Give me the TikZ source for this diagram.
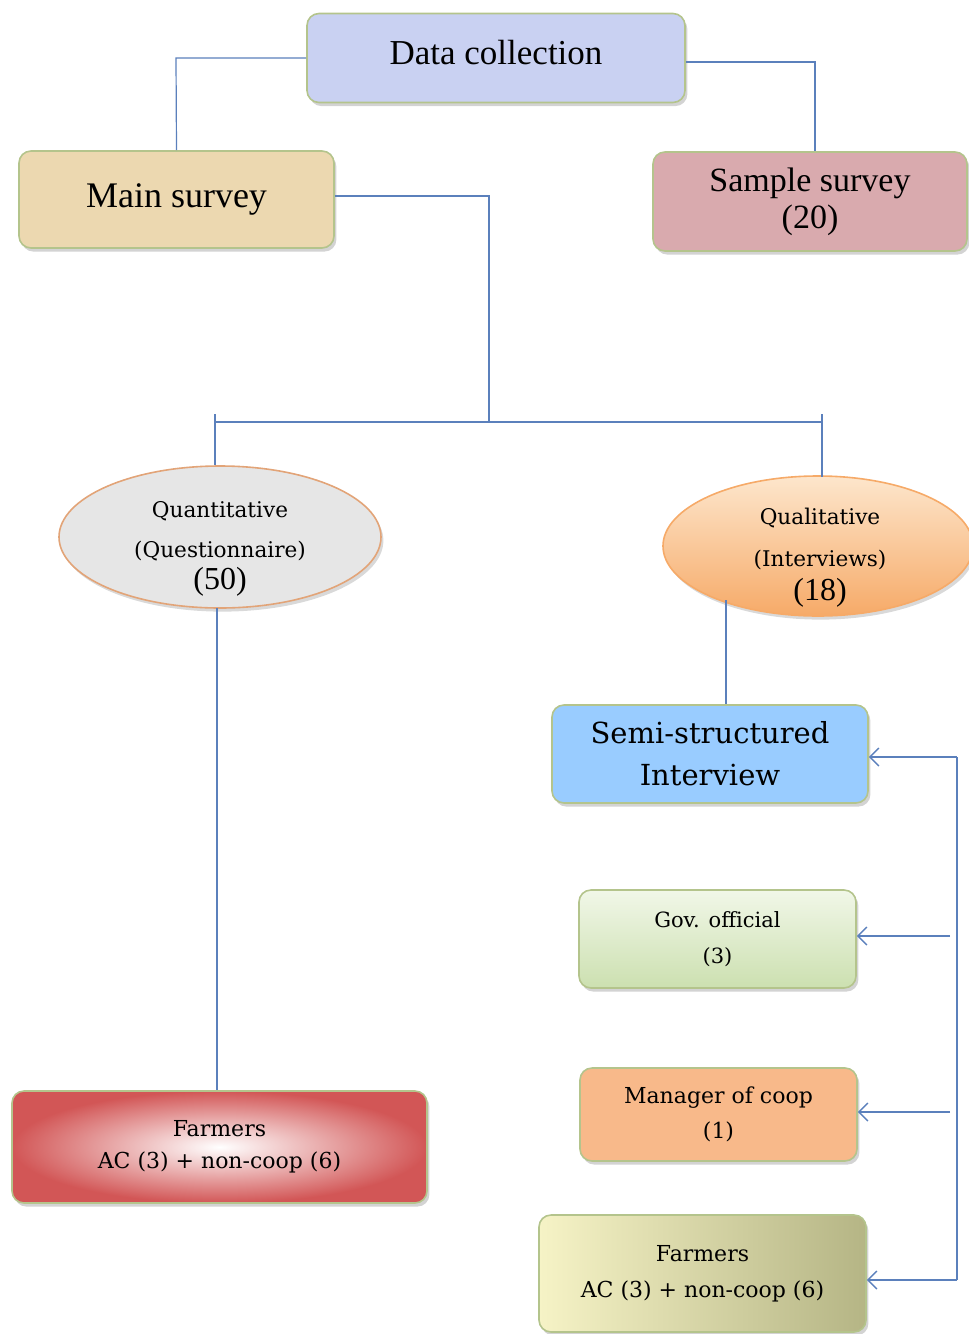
\documentclass[tikz,border=0pt]{standalone}
\usepackage{fontspec}
\setmainfont{Liberation Serif}
\newfontfamily\camb{DejaVu Serif}
\usetikzlibrary{shapes.geometric,shadows,arrows.meta}
\definecolor{linec}{HTML}{5B80BC}
\definecolor{bordc}{HTML}{B4C48C}
\definecolor{dcfill}{HTML}{C9D1F2}
\definecolor{msfill}{HTML}{ECD8B0}
\definecolor{ssfill}{HTML}{D9AAAE}
\definecolor{qnfill}{HTML}{E6E6E6}
\definecolor{qnbord}{HTML}{E2A478}
\definecolor{qltop}{HTML}{FDE6CC}
\definecolor{qlbot}{HTML}{F6AA68}
\definecolor{semifill}{HTML}{99CCFF}
\definecolor{govtop}{HTML}{F1F7E8}
\definecolor{govbot}{HTML}{CCE0B0}
\definecolor{mgrfill}{HTML}{F8B98A}
\definecolor{frleft}{HTML}{F6F3C6}
\definecolor{frright}{HTML}{B5B585}
\definecolor{flout}{HTML}{D25656}
\tikzset{
  box/.style={rectangle, rounded corners=6pt, draw=bordc, line width=0.8pt, align=center,
     inner sep=0pt, drop shadow={opacity=0.35, shadow xshift=1.2pt, shadow yshift=-1.8pt}},
  oval/.style={ellipse, inner sep=0pt, line width=0.8pt,
     drop shadow={opacity=0.3, shadow xshift=1.2pt, shadow yshift=-1.8pt}},
  ovaltext/.style={align=center, inner sep=0pt},
  conn/.style={draw=linec, line width=0.6pt},
  arr/.style={conn, -{Straight Barb[length=4.5pt, width=9pt, line width=0.7pt]}}
}
\begin{document}
\begin{tikzpicture}[x=0.5pt, y=-0.5pt]
\useasboundingbox (0,0) rectangle (969,1334);
\clip (0,0) rectangle (969,1334);
% nodes
\node[box, fill=dcfill, minimum width=189pt, minimum height=44.5pt] (dc) at (496,58) {};
\node[font=\fontsize{17.5}{20}\selectfont, inner sep=0pt] (dct) at (496,53) {Data collection};
\node[box, fill=msfill, minimum width=157.5pt, minimum height=48.5pt,
      font=\fontsize{18}{20}\selectfont] (ms) at (176.5,199.5) {Main survey};
\node[box, fill=ssfill, minimum width=157pt, minimum height=49.5pt,
      font=\fontsize{17}{18.5}\selectfont] (ss) at (810,201.5) {Sample survey\\(20)};
\node[oval, fill=qnfill, draw=qnbord, minimum width=161pt, minimum height=71pt] (qn) at (220,537) {};
\node[ovaltext, font=\camb\fontsize{10.8}{20}\selectfont] (qnt) at (220,549)
      {Quantitative\\(Questionnaire)\\[-4pt]{\rmfamily\fontsize{16}{16}\selectfont (50)}};
\node[oval, top color=qltop, bottom color=qlbot, draw=qlbot, minimum width=155pt, minimum height=70pt] (ql) at (818,546) {};
\node[ovaltext, font=\camb\fontsize{10.8}{21}\selectfont] (qlt) at (820,558)
      {Qualitative\\(Interviews)\\[-4pt]{\rmfamily\fontsize{16}{16}\selectfont (18)}};
\node[box, fill=semifill, minimum width=158pt, minimum height=49pt,
      font=\camb\fontsize{14.5}{21}\selectfont] (semi) at (710,754) {Semi-structured\\Interview};
\node[box, top color=govtop, bottom color=govbot, minimum width=138.5pt, minimum height=49pt,
      font=\camb\fontsize{10.5}{18}\selectfont] (gov) at (717.5,939) {Gov. official\\(3)};
\node[box, fill=mgrfill, minimum width=138.5pt, minimum height=46.5pt,
      font=\camb\fontsize{11}{17.5}\selectfont] (mgr) at (718.5,1114.5) {Manager of coop\\(1)};
\node[box, left color=frleft, right color=frright, minimum width=163.5pt, minimum height=58.5pt,
      font=\camb\fontsize{11}{18}\selectfont] (frr) at (702.5,1273.5) {Farmers\\AC (3) + non-coop (6)};
\node[box, inner color=white, outer color=flout, minimum width=207.5pt, minimum height=56pt,
      font=\camb\fontsize{11}{16}\selectfont] (frl) at (219.5,1147) {Farmers\\AC (3) + non-coop (6)};
% connectors
\coordinate (dcL) at (176,58);
\coordinate (dcR) at (815,62);
\draw[conn] (dc.west) -- (dcL) -- (ms.north);
\draw[conn] (dc.east |- dcR) -- (dcR) -- (ss.north -| dcR);
\coordinate (msR) at (489,196);
\coordinate (mid) at (489,422);
\coordinate (barL) at (215,422);
\coordinate (barR) at (822,422);
\draw[conn] (ms.east |- msR) -- (msR) -- (mid);
\draw[conn] (barL) -- (barR);
\draw[conn] (215,414) -- (barL) -- (qn.north -| barL);
\draw[conn] (822,414) -- (barR) -- (822,477);
\coordinate (qnB) at (217,608);
\draw[conn] (qnB) -- (frl.north -| qnB);
\coordinate (qlB) at (726,600);
\draw[conn] (qlB) -- (semi.north -| qlB);
\coordinate (rt) at (957,757);
\coordinate (rb) at (957,1280);
\draw[conn] (rt) -- (rb);
\draw[arr] (rt) -- (semi.east |- rt);
\draw[arr] (950,936) -- (gov.east |- 0,936);
\draw[arr] (950,1112) -- (mgr.east |- 0,1112);
\draw[arr] (rb) -- (frr.east |- rb);
\end{tikzpicture}
\end{document}
